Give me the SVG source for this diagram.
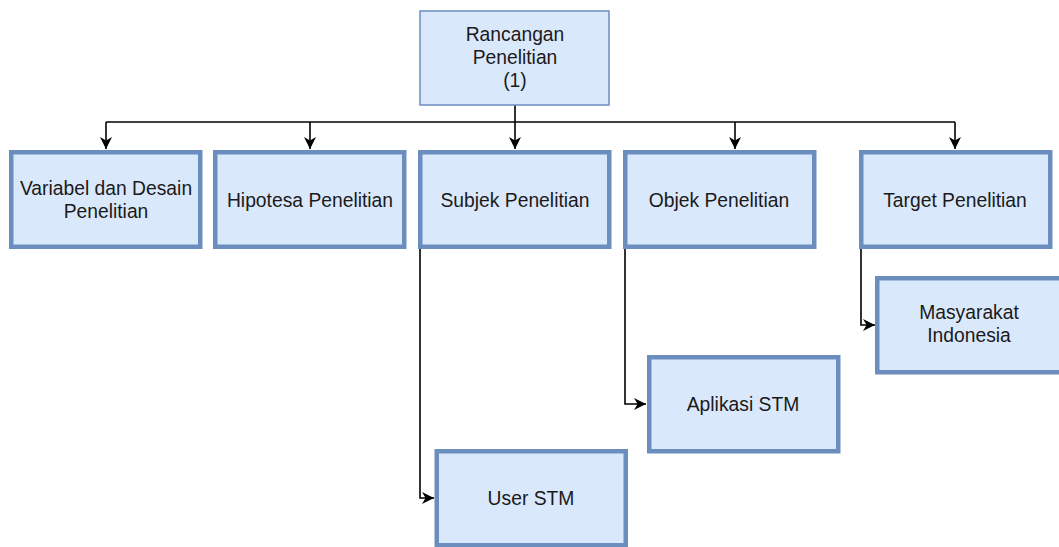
<svg xmlns="http://www.w3.org/2000/svg" width="1059" height="547" viewBox="0 0 1059 547">
<style>
.box{fill:#dae8fc;stroke:#6c8ebf;stroke-width:4.5}
.top{fill:#dae8fc;stroke:#6c8ebf;stroke-width:1.5}
.t{font-family:"Liberation Sans",Arial,sans-serif;font-size:19.3px;fill:#1a1a1a;text-anchor:middle}
.c{fill:none;stroke:#000;stroke-width:1.6}
</style>
<defs>
<marker id="arr" viewBox="0 0 10 10" refX="10" refY="5" markerWidth="12" markerHeight="12" markerUnits="userSpaceOnUse" orient="auto">
<path d="M0,0 L10,5 L0,10 L3,5 z" fill="#000"/>
</marker>
</defs>
<rect width="1059" height="547" fill="#fff"/>
<g id="connectors">
<path class="c" d="M515,105 L515,149" marker-end="url(#arr)"/>
<path class="c" d="M106,122 L955,122"/>
<path class="c" d="M106,122 L106,149" marker-end="url(#arr)"/>
<path class="c" d="M310,122 L310,149" marker-end="url(#arr)"/>
<path class="c" d="M735,122 L735,149" marker-end="url(#arr)"/>
<path class="c" d="M955,122 L955,149" marker-end="url(#arr)"/>
<path class="c" d="M420,249 L420,498 L434,498" marker-end="url(#arr)"/>
<path class="c" d="M625,249 L625,404 L646,404" marker-end="url(#arr)"/>
<path class="c" d="M861,249 L861,325 L875,325" marker-end="url(#arr)"/>
</g>
<g id="n-root">
<rect class="top" x="420" y="11" width="189" height="94"/>
<text class="t" x="515" y="41">Rancangan</text>
<text class="t" x="515" y="64">Penelitian</text>
<text class="t" x="515" y="87">(1)</text>
</g>
<g id="n-variabel">
<rect class="box" x="11.25" y="152.25" width="189" height="94.5"/>
<text class="t" x="106" y="195">Variabel dan Desain</text>
<text class="t" x="106" y="218">Penelitian</text>
</g>
<g id="n-hipotesa">
<rect class="box" x="215.25" y="152.25" width="189" height="94.5"/>
<text class="t" x="310" y="206.5">Hipotesa Penelitian</text>
</g>
<g id="n-subjek">
<rect class="box" x="420.25" y="152.25" width="189" height="94.5"/>
<text class="t" x="515" y="206.5">Subjek Penelitian</text>
</g>
<g id="n-objek">
<rect class="box" x="625.25" y="152.25" width="189" height="94.5"/>
<text class="t" x="719" y="206.5">Objek Penelitian</text>
</g>
<g id="n-target">
<rect class="box" x="861.25" y="152.25" width="189" height="94.5"/>
<text class="t" x="955" y="206.5">Target Penelitian</text>
</g>
<g id="n-masyarakat">
<rect class="box" x="877.25" y="278.25" width="189" height="94"/>
<text class="t" x="969" y="319">Masyarakat</text>
<text class="t" x="969" y="342">Indonesia</text>
</g>
<g id="n-aplikasi">
<rect class="box" x="649.25" y="357.25" width="189" height="94"/>
<text class="t" x="743" y="411">Aplikasi STM</text>
</g>
<g id="n-user">
<rect class="box" x="436.75" y="451.25" width="189" height="94"/>
<text class="t" x="531" y="505">User STM</text>
</g>
</svg>
